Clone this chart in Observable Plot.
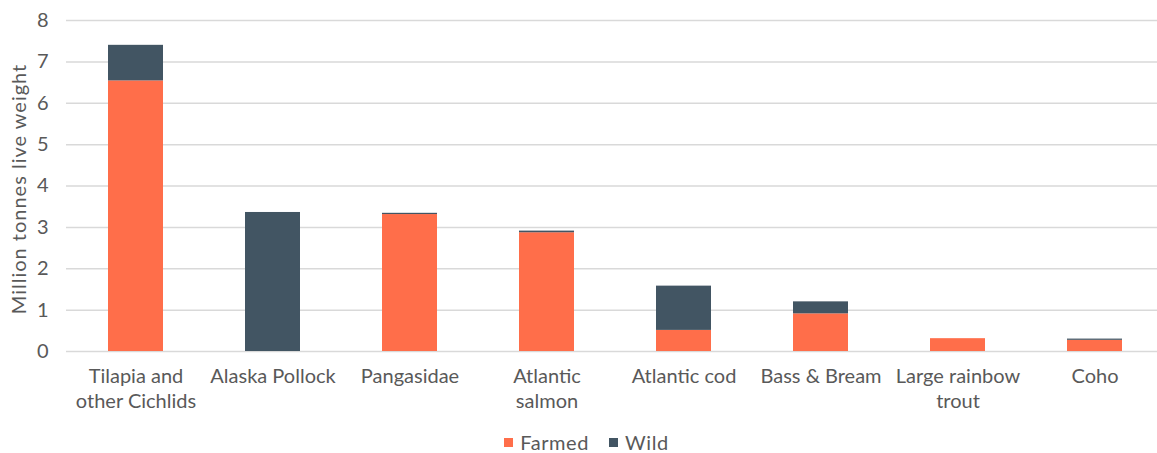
<!DOCTYPE html>
<html>
<head>
<meta charset="utf-8">
<script src="https://cdn.jsdelivr.net/npm/d3@7"></script>
<script src="https://cdn.jsdelivr.net/npm/@observablehq/plot@0.6"></script>
<style>
  html, body { margin: 0; padding: 0; background: #fff; }
  #chart { width: 1157px; height: 453px; position: relative; overflow: hidden; }
  .legend { position: absolute; top: 431px; left: 0; width: 1157px; display: flex; justify-content: center;
    font-family: Lato, "Open Sans", sans-serif; font-size: 20px; color: #595959; line-height: 22px; padding-left: 16px; box-sizing: border-box; letter-spacing: 0.6px; }
  .legend span.item { display: inline-flex; align-items: center; margin: 0 10px; }
  .legend span.sw { display: inline-block; width: 9px; height: 9px; margin-right: 7px; }
</style>
</head>
<body>
<div id="chart"></div>
<script>
const categories = ["Tilapia and other Cichlids", "Alaska Pollock", "Pangasidae", "Atlantic salmon", "Atlantic cod", "Bass & Bream", "Large rainbow trout", "Coho"];
const tickLabels = ["Tilapia and\nother Cichlids", "Alaska Pollock", "Pangasidae", "Atlantic\nsalmon", "Atlantic cod", "Bass & Bream", "Large rainbow\ntrout", "Coho"];
const farmed = [6.54, 0, 3.31, 2.87, 0.51, 0.91, 0.31, 0.27];
const wild = [0.86, 3.36, 0.03, 0.04, 1.07, 0.29, 0, 0.03];
const seriesNames = ["Farmed", "Wild"];
const seriesColors = ["#FF6E4A", "#425563"];
const yTicks = [0, 1, 2, 3, 4, 5, 6, 7, 8];
const yTitle = "Million tonnes live weight";

const rows = [];
categories.forEach((c, i) => {
  rows.push({category: c, type: "Farmed", value: farmed[i]});
  rows.push({category: c, type: "Wild", value: wild[i]});
});
const labelOf = new Map(categories.map((c, i) => [c, tickLabels[i]]));

const chart = Plot.plot({
  width: 1157,
  height: 420,
  marginTop: 20,
  marginBottom: 69,
  marginLeft: 66,
  marginRight: 0,
  style: {fontFamily: "Lato, 'Open Sans', sans-serif", fontSize: "20px", color: "#595959", background: "#fff"},
  x: {domain: categories, range: [66, 1163], paddingInner: 0.6, paddingOuter: 0.3},
  y: {domain: [0, 8]},
  color: {domain: seriesNames, range: seriesColors},
  marks: [
    Plot.ruleY(yTicks, {stroke: "#d9d9d9", strokeWidth: 1.5}),
    Plot.barY(rows, {x: "category", y: "value", fill: "type"}),
    Plot.axisY({ticks: yTicks, tickSize: 0, tickPadding: 18, fontSize: 20, label: null}),
    Plot.text([yTitle], {frameAnchor: "left", textAnchor: "middle", lineAnchor: "middle", rotate: -90, dx: -47, dy: 3, fontSize: 20, fill: "#595959"}),
    Plot.axisX({tickSize: 0, tickPadding: 14, fontSize: 20, tickFormat: d => labelOf.get(d), lineHeight: 1.25, label: null})
  ]
});
chart.querySelectorAll("text").forEach(t => {
  if (t.textContent === yTitle) t.style.letterSpacing = "1px";
});
document.getElementById("chart").appendChild(chart);

const legend = document.createElement("div");
legend.className = "legend";
seriesNames.forEach((n, i) => {
  const item = document.createElement("span");
  item.className = "item";
  const sw = document.createElement("span");
  sw.className = "sw";
  sw.style.background = seriesColors[i];
  item.appendChild(sw);
  item.appendChild(document.createTextNode(n));
  legend.appendChild(item);
});
document.getElementById("chart").appendChild(legend);
</script>
</body>
</html>
